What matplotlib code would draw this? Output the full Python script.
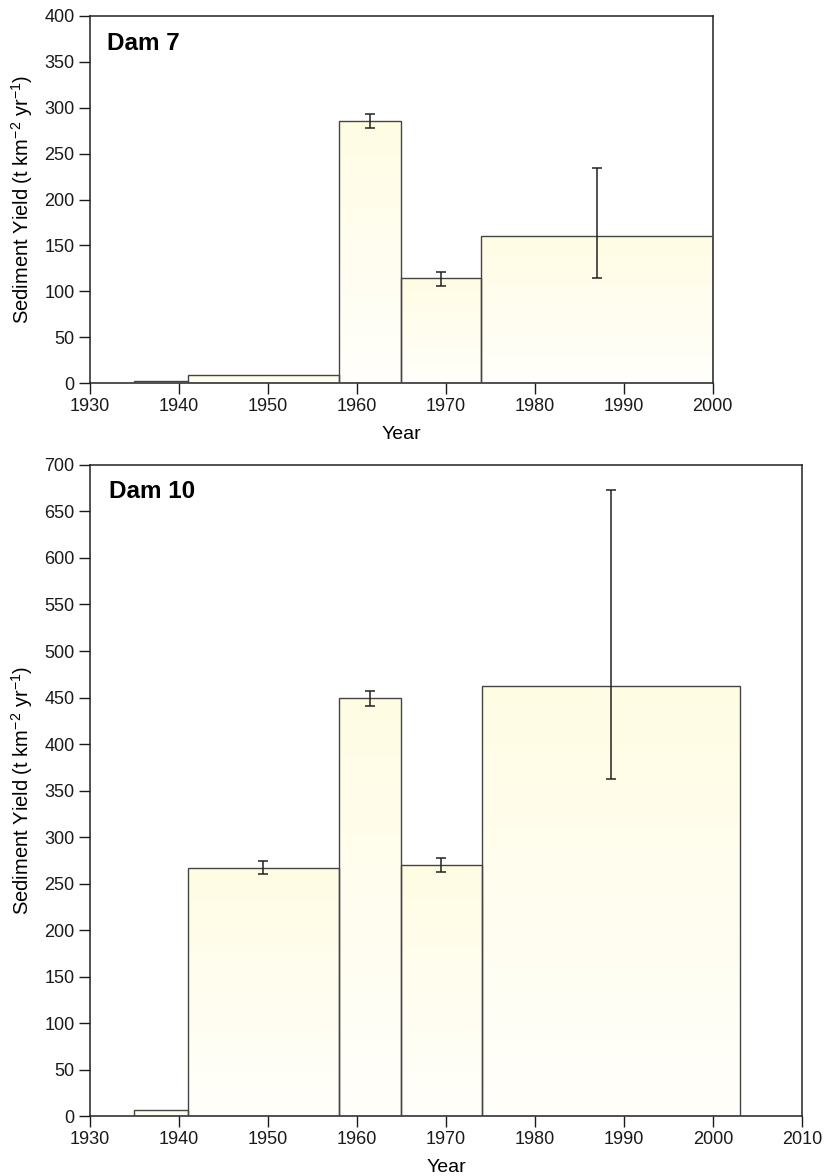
import numpy as np
import matplotlib.pyplot as plt
from matplotlib.colors import LinearSegmentedColormap

plt.rcParams['font.family'] = ['Liberation Sans', 'DejaVu Sans']
plt.rcParams['mathtext.default'] = 'regular'

# Dam 7: bar edges (years), sediment yield, error bounds
dam7_left = [1935, 1941, 1958, 1965, 1974]
dam7_right = [1941, 1958, 1965, 1974, 2000]
dam7_yield = [2, 9, 286, 114, 160]
dam7_err_lo = [None, None, 278, 106, 114]
dam7_err_hi = [None, None, 293, 121, 234]

# Dam 10
dam10_left = [1935, 1941, 1958, 1965, 1974]
dam10_right = [1941, 1958, 1965, 1974, 2003]
dam10_yield = [6, 267, 449, 270, 462]
dam10_err_lo = [None, 260, 441, 262, 362]
dam10_err_hi = [None, 274, 457, 277, 673]

grad = LinearSegmentedColormap.from_list('g', ['#fffffb', '#fffce4'])
edge = '#444444'


def draw_panel(ax, left, right, vals, lo, hi, xlim, ylim, yticks, label, ly):
    for l, r, v in zip(left, right, vals):
        bar = ax.bar(l, v, width=r - l, align='edge', facecolor='none',
                     edgecolor=edge, linewidth=1.0, zorder=3)[0]
        img = ax.imshow(np.linspace(0, 1, 100).reshape(-1, 1), cmap=grad,
                        extent=[l, r, 0, v], origin='lower', aspect='auto',
                        zorder=2)
        img.set_clip_path(bar)
    for l, r, a, b in zip(left, right, lo, hi):
        if a is None:
            continue
        xc = (l + r) / 2
        ax.errorbar([xc], [(a + b) / 2], yerr=[[(b - a) / 2], [(b - a) / 2]],
                    fmt='none', ecolor='#222222', elinewidth=1.1,
                    capsize=3.5, capthick=1.1, zorder=4)
    ax.set_xlim(*xlim)
    ax.set_ylim(*ylim)
    ax.set_xticks(np.arange(xlim[0], xlim[1] + 1, 10))
    ax.set_yticks(yticks)
    ax.tick_params(direction='out', length=8, width=1.0, labelsize=13,
                   colors='#1a1a1a', pad=3)
    for s in ax.spines.values():
        s.set_linewidth(1.1)
        s.set_color('#222222')
    ax.set_xlabel('Year', fontsize=14, labelpad=8)
    ax.set_ylabel('Sediment Yield (t km$^{-2}$ yr$^{-1}$)', fontsize=14.5,
                  labelpad=7)
    ax.text(0.027, ly, label, transform=ax.transAxes, fontsize=17.5,
            fontweight='bold', va='center')


fig = plt.figure(figsize=(8.25, 11.76), dpi=100)
ax1 = fig.add_axes([0.109, 0.6743, 0.755, 0.3121])
ax2 = fig.add_axes([0.109, 0.051, 0.863, 0.5536])

draw_panel(ax1, dam7_left, dam7_right, dam7_yield, dam7_err_lo, dam7_err_hi,
           (1930, 2000), (0, 400), np.arange(0, 401, 50), 'Dam 7', 0.926)
draw_panel(ax2, dam10_left, dam10_right, dam10_yield, dam10_err_lo, dam10_err_hi,
           (1930, 2010), (0, 700), np.arange(0, 701, 50), 'Dam 10', 0.959)

fig.savefig('out.png', dpi=100)
